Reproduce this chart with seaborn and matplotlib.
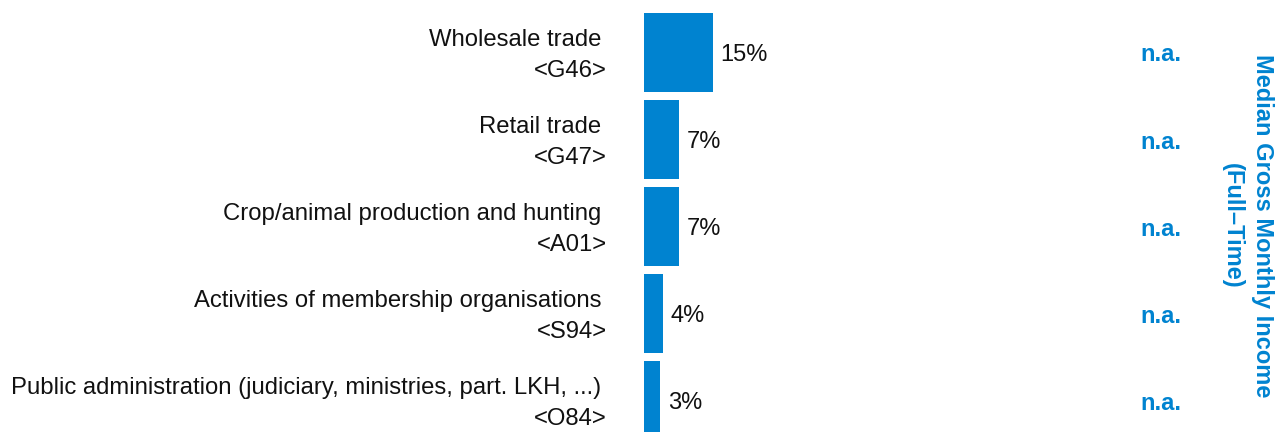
import matplotlib
matplotlib.use("Agg")
import matplotlib.pyplot as plt
import seaborn as sns
import pandas as pd

# data
industries = ["Wholesale trade", "Retail trade", "Crop/animal production and hunting",
              "Activities of membership organisations",
              "Public administration (judiciary, ministries, part. LKH, ...)"]
codes = ["<G46>", "<G47>", "<A01>", "<S94>", "<O84>"]
shares = [14.6, 7.4, 7.4, 4.0, 3.4]  # percent
income = ["n.a.", "n.a.", "n.a.", "n.a.", "n.a."]
side_title = "Median Gross Monthly Income\n(Full\u2013Time)"

blue = "#0083D0"

sns.set_style("white")
plt.rcParams['font.family'] = ['Liberation Sans', 'DejaVu Sans']

df = pd.DataFrame({"industry": industries, "share": shares})

W, H = 1284, 432
fig = plt.figure(figsize=(W / 100, H / 100), dpi=100)
ax = fig.add_axes([644 / W, 0, 1 - 644 / W, 1])

sns.barplot(data=df, x="share", y="industry", orient="h", color=blue,
            saturation=1, width=0.91, linewidth=0, ax=ax)

# value labels right of the bars
vlabels = ax.bar_label(ax.containers[0], labels=[f"{round(v):.0f}%" for v in shares],
                       padding=5, fontsize=17, color="#111111")
for t in vlabels:
    t.xyann = (5.5, -2)

ax.set_xlim(0, 640 / 4.73)
ax.set_ylim(4.362, -0.603)
ax.set_xticks([])
ax.set_yticks([])
ax.set_xlabel("")
ax.set_ylabel("")
for s in ax.spines.values():
    s.set_visible(False)

# two-line category labels: name and code
for i, (name, code) in enumerate(zip(industries, codes)):
    ax.annotate(name, xy=(601 / W, i), xycoords=("figure fraction", "data"),
                xytext=(0, 4.7), textcoords="offset points",
                ha="right", va="baseline", fontsize=17.2, color="#111111",
                annotation_clip=False)
    ax.annotate(code, xy=(607 / W, i), xycoords=("figure fraction", "data"),
                xytext=(0, -17.6), textcoords="offset points",
                ha="right", va="baseline", fontsize=17.2, color="#111111",
                annotation_clip=False)
    ax.annotate(income[i], xy=(1161 / W, i), xycoords=("figure fraction", "data"),
                xytext=(0, -6.5), textcoords="offset points",
                ha="center", va="baseline", fontsize=17, fontweight="bold",
                color=blue, annotation_clip=False)

fig.text(1247 / W, 1 - 226 / H, side_title, rotation=-90, ha="center", va="center",
         multialignment="center", linespacing=1.4, fontsize=17, fontweight="bold",
         color=blue)

fig.savefig("out.png", dpi=100)
